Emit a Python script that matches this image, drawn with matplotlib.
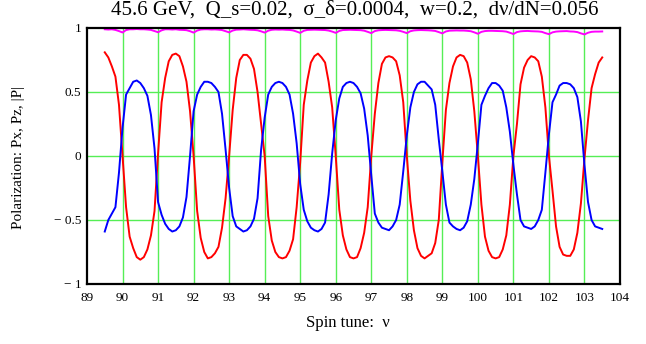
import numpy as np
import matplotlib
matplotlib.use("Agg")
import matplotlib.pyplot as plt

plt.rcParams["font.family"] = ["Liberation Serif", "DejaVu Serif"]

# spin tune scan, 0.1 step
nu = np.linspace(89.5, 103.5, 141)

# Px (red)
px = [
    0.81, 0.77, 0.70, 0.62, 0.40,
    0.00, -0.40, -0.63, -0.72, -0.79, -0.81, -0.79, -0.73, -0.62, -0.43,
    0.02, 0.42, 0.61, 0.74, 0.79, 0.80, 0.78, 0.70, 0.58, 0.35,
    0.00, -0.43, -0.64, -0.75, -0.80, -0.79, -0.76, -0.71, -0.56, -0.33,
    0.00, 0.36, 0.61, 0.75, 0.79, 0.79, 0.76, 0.68, 0.50, 0.25,
    0.00, -0.47, -0.66, -0.75, -0.79, -0.80, -0.79, -0.74, -0.65, -0.40,
    -0.05, 0.40, 0.59, 0.73, 0.78, 0.80, 0.77, 0.73, 0.58, 0.38,
    0.00, -0.42, -0.62, -0.73, -0.79, -0.80, -0.79, -0.72, -0.60, -0.40,
    0.00, 0.33, 0.57, 0.72, 0.77, 0.78, 0.77, 0.74, 0.63, 0.42,
    0.00, -0.35, -0.58, -0.72, -0.78, -0.80, -0.78, -0.76, -0.68, -0.50,
    -0.05, 0.36, 0.57, 0.70, 0.77, 0.79, 0.78, 0.73, 0.60, 0.35,
    0.00, -0.38, -0.63, -0.74, -0.79, -0.80, -0.79, -0.73, -0.62, -0.38,
    0.00, 0.25, 0.56, 0.69, 0.75, 0.78, 0.77, 0.74, 0.62, 0.38,
    0.00, -0.27, -0.55, -0.71, -0.77, -0.78, -0.78, -0.73, -0.60, -0.37,
    -0.02, 0.28, 0.53, 0.64, 0.73, 0.77,
]

# Pz (blue)
pz = [
    -0.59, -0.50, -0.45, -0.40, -0.13,
    0.22, 0.48, 0.53, 0.58, 0.59, 0.57, 0.53, 0.47, 0.32, 0.06,
    -0.36, -0.46, -0.53, -0.57, -0.59, -0.58, -0.55, -0.48, -0.32, 0.00,
    0.35, 0.48, 0.54, 0.58, 0.58, 0.57, 0.54, 0.50, 0.33, 0.05,
    -0.25, -0.47, -0.55, -0.57, -0.59, -0.58, -0.55, -0.49, -0.33, 0.05,
    0.30, 0.48, 0.54, 0.57, 0.58, 0.57, 0.54, 0.48, 0.33, 0.10,
    -0.22, -0.42, -0.51, -0.56, -0.58, -0.59, -0.57, -0.52, -0.30, 0.02,
    0.28, 0.45, 0.54, 0.57, 0.58, 0.57, 0.54, 0.49, 0.37, 0.16,
    -0.15, -0.45, -0.52, -0.56, -0.57, -0.58, -0.55, -0.50, -0.38, -0.12,
    0.16, 0.38, 0.50, 0.56, 0.58, 0.58, 0.55, 0.52, 0.40, 0.13,
    -0.12, -0.38, -0.52, -0.55, -0.57, -0.58, -0.56, -0.51, -0.38, -0.18,
    0.10, 0.40, 0.47, 0.53, 0.57, 0.57, 0.55, 0.51, 0.38, 0.19,
    -0.07, -0.30, -0.50, -0.55, -0.56, -0.57, -0.55, -0.50, -0.42, -0.13,
    0.17, 0.42, 0.48, 0.55, 0.57, 0.57, 0.56, 0.53, 0.46, 0.27,
    -0.07, -0.36, -0.50, -0.55, -0.56, -0.57,
]

# |P| (magenta)
pabs = [
    0.990, 0.988, 0.990, 0.985, 0.976,
    0.965, 0.984, 0.990, 0.990, 0.992, 0.990, 0.990, 0.988, 0.985, 0.976,
    0.967, 0.982, 0.990, 0.990, 0.988, 0.990, 0.986, 0.985, 0.983, 0.975,
    0.964, 0.980, 0.988, 0.990, 0.990, 0.988, 0.989, 0.987, 0.984, 0.975,
    0.966, 0.980, 0.987, 0.988, 0.990, 0.988, 0.986, 0.985, 0.982, 0.974,
    0.964, 0.979, 0.986, 0.988, 0.987, 0.988, 0.986, 0.985, 0.981, 0.972,
    0.962, 0.978, 0.985, 0.986, 0.987, 0.986, 0.985, 0.984, 0.980, 0.972,
    0.962, 0.977, 0.984, 0.985, 0.986, 0.985, 0.984, 0.983, 0.979, 0.970,
    0.960, 0.976, 0.982, 0.984, 0.985, 0.984, 0.983, 0.982, 0.978, 0.970,
    0.960, 0.975, 0.981, 0.983, 0.984, 0.983, 0.982, 0.980, 0.977, 0.968,
    0.958, 0.973, 0.979, 0.980, 0.981, 0.980, 0.980, 0.978, 0.975, 0.966,
    0.955, 0.970, 0.976, 0.978, 0.978, 0.977, 0.976, 0.975, 0.972, 0.963,
    0.953, 0.968, 0.974, 0.976, 0.977, 0.975, 0.974, 0.973, 0.970, 0.960,
    0.952, 0.966, 0.972, 0.974, 0.975, 0.976, 0.973, 0.972, 0.968, 0.958,
    0.950, 0.963, 0.970, 0.972, 0.972, 0.973,
]

x_ticks = list(range(89, 105))
y_ticks = [-1, -0.5, 0, 0.5, 1]
y_tick_labels = ["\u2212 1", "\u2212 0.5", "0", "0.5", "1"]

W, H = 646, 344
fig = plt.figure(figsize=(W / 100, H / 100), dpi=100)
ax = fig.add_axes([87 / W, 1 - 284 / H, (620 - 87) / W, (284 - 28) / H])

# green grid
for v in range(90, 104):
    ax.axvline(v, color="#55ee55", lw=1.0, zorder=1)
for v in (-0.5, 0, 0.5):
    ax.axhline(v, color="#55ee55", lw=1.0, zorder=1)

ax.plot(nu, pabs, color="#ff00ff", lw=1.4, zorder=3)
ax.plot(nu, px, color="#ff0000", lw=1.4, zorder=3)
ax.plot(nu, pz, color="#0000ff", lw=1.4, zorder=3)

ax.set_xlim(89, 104)
ax.set_ylim(-1, 1)
ax.set_xticks(x_ticks)
ax.set_xticklabels([str(t) for t in x_ticks])
ax.set_yticks(y_ticks)
ax.set_yticklabels(y_tick_labels)
ax.tick_params(length=0, labelsize=9.5)
ax.tick_params(axis="x", pad=6)
ax.tick_params(axis="y", pad=4)
for s in ax.spines.values():
    s.set_linewidth(1.6)
    s.set_color("black")
    s.set_zorder(4)

fig.text(355 / W, 1 - 10 / H,
         "45.6 GeV,  Q_s=0.02,  \u03c3_\u03b4=0.0004,  w=0.2,  d\u03bd/dN=0.056",
         ha="center", va="center", fontsize=15)
fig.text(348 / W, 1 - 323 / H, "Spin tune:  \u03bd",
         ha="center", va="center", fontsize=12)
fig.text(19 / W, 1 - 157 / H, "Polarization: Px, Pz, |P|",
         ha="center", va="center", rotation=90, fontsize=11)

fig.savefig("out.png", dpi=100)
